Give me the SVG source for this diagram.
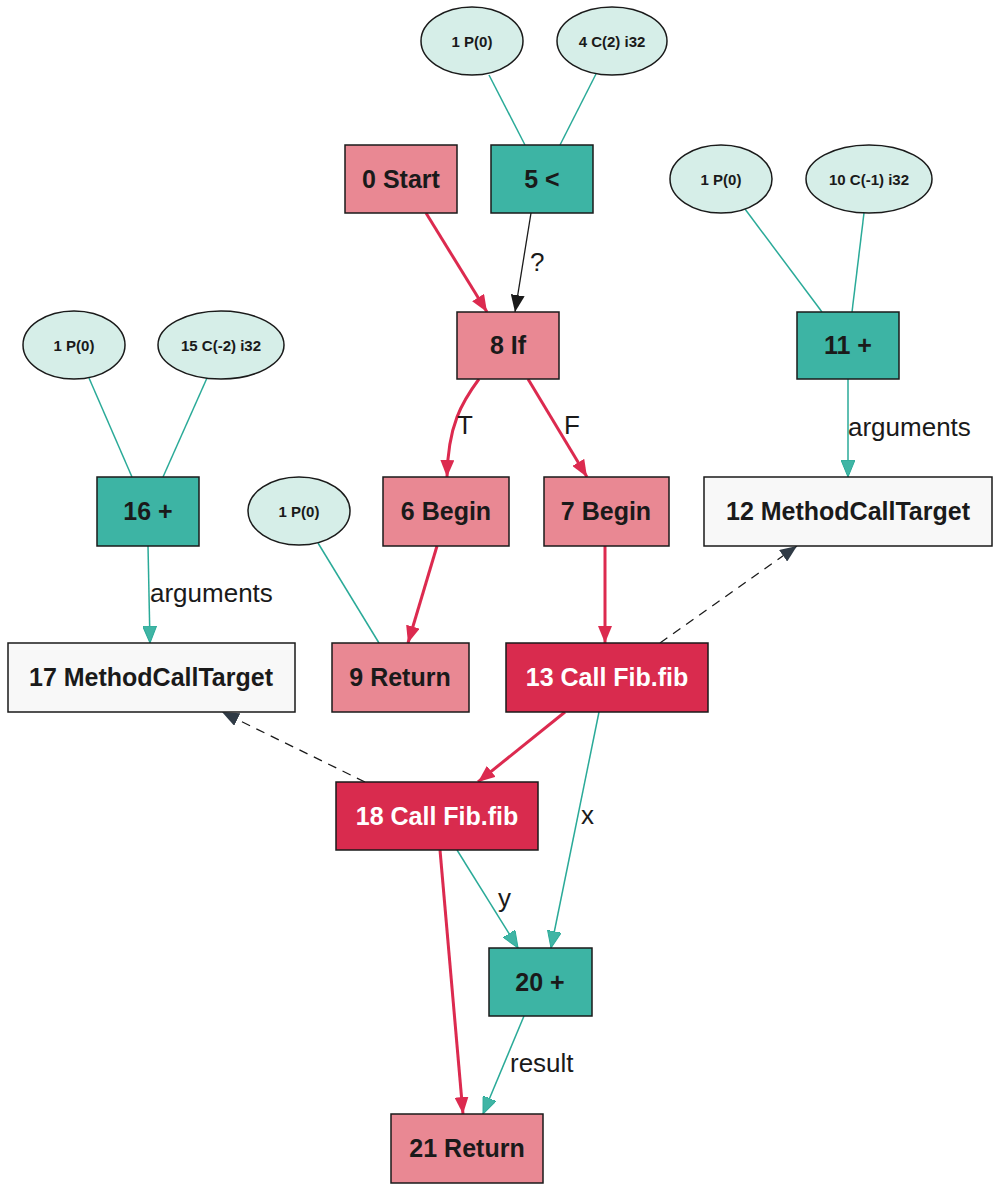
<svg xmlns="http://www.w3.org/2000/svg" width="1000" height="1190" viewBox="0 0 1000 1190">
<style>
.ctl{fill:#e98893;stroke:#1a1a1a;stroke-width:1.5}
.call{fill:#d92b4e;stroke:#1a1a1a;stroke-width:1.5}
.op{fill:#3db4a4;stroke:#1a1a1a;stroke-width:1.5}
.mct{fill:#f8f8f8;stroke:#1a1a1a;stroke-width:1.5}
.cst{fill:#d6eee8;stroke:#1a1a1a;stroke-width:1.5}
.lbl{font-family:"Liberation Sans",Arial,sans-serif;font-weight:bold;font-size:25px;fill:#1a1a1a;text-anchor:middle;dominant-baseline:central}
.lblw{fill:#ffffff}
.sm{font-family:"Liberation Sans",Arial,sans-serif;font-weight:bold;font-size:15px;fill:#1a1a1a;text-anchor:middle;dominant-baseline:central}
.el{font-family:"Liberation Sans",Arial,sans-serif;font-size:26px;fill:#1a1a1a}
.red{stroke:#dc2a4f;stroke-width:3;fill:none;marker-end:url(#ar)}
.teal{stroke:#2aaa98;stroke-width:1.5;fill:none}
.teala{stroke:#2aaa98;stroke-width:1.5;fill:none;marker-end:url(#at)}
.blk{stroke:#1a1a1a;stroke-width:1.3;fill:none;marker-end:url(#ab)}
.dash{stroke:#1a1a1a;stroke-width:1.3;fill:none;stroke-dasharray:9,7;marker-end:url(#ad)}
</style>
<defs>
<marker id="ar" markerUnits="userSpaceOnUse" markerWidth="18" markerHeight="14" refX="17" refY="7" orient="auto"><path d="M0,0 L17,7 L0,14 z" fill="#dc2a4f"/></marker>
<marker id="at" markerUnits="userSpaceOnUse" markerWidth="18" markerHeight="14" refX="17" refY="7" orient="auto"><path d="M0,0 L17,7 L0,14 z" fill="#40b5a5" stroke="#2aaa98" stroke-width="1"/></marker>
<marker id="ab" markerUnits="userSpaceOnUse" markerWidth="18" markerHeight="14" refX="17" refY="7" orient="auto"><path d="M0,0 L17,7 L0,14 z" fill="#1a1a1a"/></marker>
<marker id="ad" markerUnits="userSpaceOnUse" markerWidth="18" markerHeight="14" refX="17" refY="7" orient="auto"><path d="M0,0 L17,7 L0,14 z" fill="#2f3a45"/></marker>
</defs>
<rect width="1000" height="1190" fill="#ffffff"/>
<g id="edges">
<line class="teal" x1="489" y1="75" x2="525" y2="145"/>
<line class="teal" x1="596" y1="74" x2="560" y2="145"/>
<line class="red" x1="426" y1="213" x2="487" y2="312"/>
<line class="blk" x1="531" y1="213" x2="515" y2="312"/>
<text class="el" x="530" y="271">?</text>
<path class="red" d="M479,379 C462,402 448,425 447,477"/>
<text class="el" x="457" y="434">T</text>
<line class="red" x1="528" y1="379" x2="587" y2="477"/>
<text class="el" x="564" y="434">F</text>
<line class="teal" x1="745" y1="209" x2="822" y2="312"/>
<line class="teal" x1="864" y1="213" x2="852" y2="312"/>
<line class="teala" x1="848" y1="379" x2="848" y2="477"/>
<text class="el" x="848" y="436">arguments</text>
<line class="teal" x1="89" y1="378" x2="132" y2="477"/>
<line class="teal" x1="207" y1="378" x2="163" y2="477"/>
<line class="teala" x1="148" y1="546" x2="150" y2="643"/>
<text class="el" x="150" y="602">arguments</text>
<line class="teal" x1="318" y1="543" x2="379" y2="643"/>
<line class="red" x1="437" y1="546" x2="408" y2="643"/>
<line class="red" x1="605" y1="546" x2="605" y2="643"/>
<line class="dash" x1="660" y1="643" x2="797" y2="546"/>
<line class="red" x1="565" y1="712" x2="478" y2="782"/>
<line class="dash" x1="365" y1="782" x2="222" y2="712"/>
<line class="teala" x1="599" y1="712" x2="551" y2="948"/>
<text class="el" x="581" y="824">x</text>
<line class="teala" x1="457" y1="850" x2="518" y2="948"/>
<text class="el" x="498" y="907">y</text>
<line class="red" x1="440" y1="850" x2="463" y2="1114"/>
<line class="teala" x1="524" y1="1016" x2="483" y2="1114"/>
<text class="el" x="510" y="1072">result</text>
</g>
<g id="n1a"><ellipse class="cst" cx="472" cy="41" rx="51" ry="34"/><text class="sm" x="472" y="41">1 P(0)</text></g>
<g id="n4"><ellipse class="cst" cx="612" cy="41" rx="55" ry="34"/><text class="sm" x="612" y="41">4 C(2) i32</text></g>
<g id="n0"><rect class="ctl" x="345" y="145" width="112" height="68"/><text class="lbl" x="401" y="179">0 Start</text></g>
<g id="n5"><rect class="op" x="491" y="145" width="102" height="68"/><text class="lbl" x="542" y="179">5 &lt;</text></g>
<g id="n1b"><ellipse class="cst" cx="721" cy="179" rx="51" ry="34"/><text class="sm" x="721" y="179">1 P(0)</text></g>
<g id="n10"><ellipse class="cst" cx="869" cy="179" rx="63" ry="34"/><text class="sm" x="869" y="179">10 C(-1) i32</text></g>
<g id="n8"><rect class="ctl" x="457" y="312" width="102" height="67"/><text class="lbl" x="508" y="345">8 If</text></g>
<g id="n11"><rect class="op" x="797" y="312" width="102" height="67"/><text class="lbl" x="848" y="345">11 +</text></g>
<g id="n1c"><ellipse class="cst" cx="74" cy="345" rx="51" ry="34"/><text class="sm" x="74" y="345">1 P(0)</text></g>
<g id="n15"><ellipse class="cst" cx="221" cy="345" rx="63" ry="34"/><text class="sm" x="221" y="345">15 C(-2) i32</text></g>
<g id="n16"><rect class="op" x="97" y="477" width="102" height="69"/><text class="lbl" x="148" y="511">16 +</text></g>
<g id="n1d"><ellipse class="cst" cx="299" cy="511" rx="51" ry="34"/><text class="sm" x="299" y="511">1 P(0)</text></g>
<g id="n6"><rect class="ctl" x="383" y="477" width="126" height="69"/><text class="lbl" x="446" y="511">6 Begin</text></g>
<g id="n7"><rect class="ctl" x="544" y="477" width="125" height="69"/><text class="lbl" x="606" y="511">7 Begin</text></g>
<g id="n12"><rect class="mct" x="704" y="477" width="288" height="69"/><text class="lbl" x="848" y="511">12 MethodCallTarget</text></g>
<g id="n17"><rect class="mct" x="8" y="643" width="287" height="69"/><text class="lbl" x="151" y="677">17 MethodCallTarget</text></g>
<g id="n9"><rect class="ctl" x="332" y="643" width="137" height="69"/><text class="lbl" x="400" y="677">9 Return</text></g>
<g id="n13"><rect class="call" x="506" y="643" width="202" height="69"/><text class="lbl lblw" x="607" y="677">13 Call Fib.fib</text></g>
<g id="n18"><rect class="call" x="336" y="782" width="202" height="68"/><text class="lbl lblw" x="437" y="816">18 Call Fib.fib</text></g>
<g id="n20"><rect class="op" x="489" y="948" width="103" height="68"/><text class="lbl" x="540" y="982">20 +</text></g>
<g id="n21"><rect class="ctl" x="391" y="1114" width="152" height="69"/><text class="lbl" x="467" y="1148">21 Return</text></g>
</svg>
